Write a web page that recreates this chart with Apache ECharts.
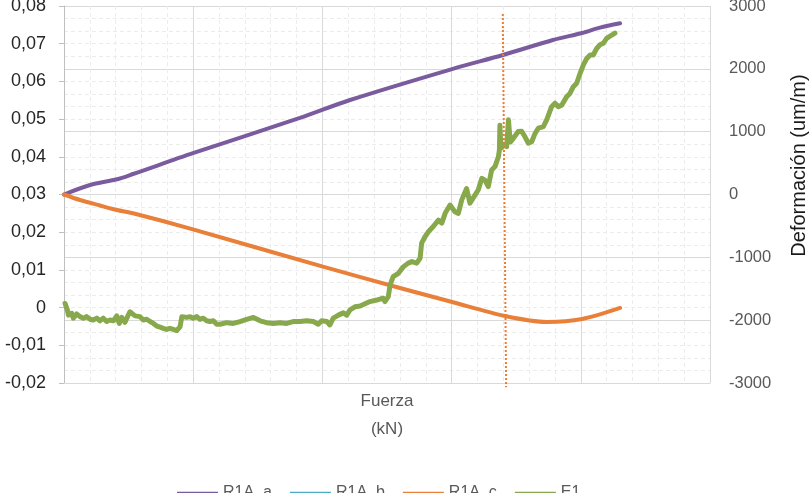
<!DOCTYPE html>
<html>
<head>
<meta charset="utf-8">
<script src="https://cdn.jsdelivr.net/npm/echarts@6/dist/echarts.min.js"></script>
<style>html,body{margin:0;padding:0;background:#fff;}#chart{width:809px;height:493px;}</style>
</head>
<body>
<div id="chart"></div>
<script>
// Series names (legend)
const seriesNames = ['R1A_a', 'R1A_b', 'R1A_c', 'E1'];

// R1A_a : [Fuerza, Deformación um/m] (right axis)
const r1aA = [[0,0],[10.1,151],[20.5,242],[26.7,326],[49.9,657],[91.3,1218],[110.7,1504],[150.5,2000],[169.9,2220],[189.2,2459],[200.5,2570],[207.4,2655],[215.2,2725]];
// R1A_b : no visible data
const r1aB = [];
// R1A_c : [Fuerza, Deformación um/m] (right axis)
const r1aC = [[0,0],[6.2,-88],[13.9,-175],[20.5,-247],[26.7,-299],[49.9,-554],[100.2,-1149],[130,-1488],[150.2,-1711],[170.7,-1934],[186.9,-2029],[200.5,-1982],[215.2,-1806]];
// E1 : [Fuerza, value] (left axis)
const e1 = [[0.4,0.0011],[1.0,0.0016],[1.3,-0.0006],[1.7,-0.0020],[2.3,-0.0024],[3.0,-0.0015],[3.6,-0.0028],[4.9,-0.0017],[6.2,-0.0024],[7.5,-0.0028],
[8.8,-0.0024],[10.1,-0.0031],[11.3,-0.0033],[12.7,-0.0028],[13.9,-0.0035],[15.2,-0.0028],[16.5,-0.0037],[17.8,-0.0033],[19.1,-0.0035],[20.4,-0.0022],
[21.4,-0.0042],[22.3,-0.0026],[23.6,-0.0039],[24.3,-0.0028],[25.5,-0.0011],[26.2,-0.0006],[27.5,-0.0022],[29.4,-0.0024],[30.7,-0.0033],[32.0,-0.0031],
[33.3,-0.0037],[34.6,-0.0042],[35.9,-0.0049],[37.2,-0.0052],[38.4,-0.0055],[39.7,-0.0058],[41.0,-0.0055],[42.3,-0.0058],[43.6,-0.0061],[44.2,-0.0064],
[44.9,-0.0051],[45.6,-0.0024],[46.2,-0.0022],[47.5,-0.0026],[48.8,-0.0024],[50.0,-0.0028],[51.4,-0.0024],[52.6,-0.0031],[53.9,-0.0028],[55.2,-0.0035],
[56.5,-0.0037],[57.8,-0.0035],[59.1,-0.0044],[60.4,-0.0044],[63.0,-0.0040],[65.5,-0.0042],[68.1,-0.0037],[70.7,-0.0031],[73.3,-0.0026],[75.9,-0.0035],
[78.4,-0.0040],[81.0,-0.0042],[83.6,-0.0040],[86.2,-0.0042],[88.7,-0.0037],[91.3,-0.0037],[93.9,-0.0035],[96.5,-0.0037],[98.4,-0.0044],[99.7,-0.0035],
[101.7,-0.0037],[102.9,-0.0046],[104.2,-0.0028],[106.2,-0.0020],[108.1,-0.0014],[109.4,-0.0020],[110.7,-0.0006],[112.6,0.0002],[114.6,0.0004],[116.5,0.0010],
[118.4,0.0016],[121.0,0.0020],[123.5,0.0025],[124.2,0.0016],[125.5,0.0029],[126.2,0.0060],[127.4,0.0082],[129.4,0.0091],[131.3,0.0108],[133.2,0.0118],
[134.6,0.0122],[136.5,0.0118],[137.8,0.0131],[138.4,0.0171],[139.7,0.0188],[141.0,0.0201],[142.9,0.0215],[144.9,0.0232],[146.2,0.0224],[147.5,0.0250],
[149.4,0.0272],[151.3,0.0254],[152.6,0.0250],[153.9,0.0285],[155.8,0.0316],[157.1,0.0277],[159.1,0.0299],[160.3,0.0312],[161.7,0.0343],[162.9,0.0338],
[164.2,0.0321],[165.5,0.0365],[166.8,0.0374],[168.1,0.0400],[168.5,0.0418],[168.7,0.0484],[169.1,0.0423],[170.3,0.0431],[171.3,0.0427],[172.0,0.0498],
[172.7,0.0439],[173.9,0.0449],[175.8,0.0467],[177.1,0.0468],[178.4,0.0453],[179.7,0.0436],[181.0,0.0440],[182.3,0.0462],[183.6,0.0476],[185.5,0.0480],
[186.8,0.0498],[188.7,0.0533],[190.0,0.0542],[191.3,0.0533],[192.6,0.0537],[194.5,0.0559],[195.8,0.0568],[197.1,0.0586],[198.4,0.0595],[199.7,0.0621],
[201.0,0.0644],[202.3,0.0661],[203.6,0.0670],[204.8,0.0670],[206.2,0.0688],[207.4,0.0697],[208.7,0.0701],[210.0,0.0714],[212.0,0.0723],[213.2,0.0728]];
// Vertical dotted marker line (left axis units)
const markerLine = [[169.8,0.0779],[171.1,-0.0211]];

// Axis ranges
const xRange = {min: 0, max: 250, interval: 50};
const leftRange = {min: -0.02, max: 0.08, interval: 0.01};
const rightRange = {min: -3000, max: 3000, interval: 1000};

const colors = {a: '#7A5C9E', b: '#4BACC6', c: '#E8803A', e: '#88A84C', mark: '#ED7D31'};
const FONT = 'Liberation Sans';
const majorGrid = {show: true, lineStyle: {color: '#d9d9d9', width: 1}};
const minorGrid = {show: true, lineStyle: {color: '#ececec', width: 1, type: [4, 3]}};

const chart = echarts.init(document.getElementById('chart'), null, {renderer: 'canvas'});
chart.setOption({
  backgroundColor: '#ffffff',
  animation: false,
  textStyle: {fontFamily: FONT},
  grid: {left: 64, right: 99, top: 6, bottom: 110, containLabel: false, outerBoundsMode: 'none'},
  legend: {
    data: seriesNames,
    left: 177, top: 485,
    padding: 0,
    icon: 'rect',
    itemWidth: 41, itemHeight: 2.5, itemGap: 18,
    textStyle: {color: '#595959', fontSize: 16, fontFamily: FONT, padding: [2, 0, 0, 0]}
  },
  xAxis: {
    type: 'value',
    min: xRange.min, max: xRange.max, interval: xRange.interval,
    name: 'Fuerza\n(kN)',
    nameLocation: 'middle',
    nameGap: 4,
    nameTextStyle: {color: '#595959', fontSize: 17, lineHeight: 28, fontFamily: FONT, verticalAlign: 'top'},
    axisLine: {show: true, onZero: false, lineStyle: {color: '#d9d9d9'}},
    axisTick: {show: false},
    axisLabel: {show: false},
    splitLine: majorGrid,
    minorTick: {show: false, splitNumber: 5},
    minorSplitLine: minorGrid
  },
  yAxis: [
    {
      type: 'value',
      position: 'left',
      min: leftRange.min, max: leftRange.max, interval: leftRange.interval,
      axisLine: {show: true, lineStyle: {color: '#bfbfbf'}},
      axisTick: {show: true, length: 5, inside: false, lineStyle: {color: '#bfbfbf'}},
      axisLabel: {
        color: '#262626', fontSize: 18, fontFamily: FONT, margin: 18,
        formatter: function (v) {
          const r = Math.round(v * 100) / 100;
          if (r === 0) return '0';
          return r.toFixed(2).replace('.', ',');
        }
      },
      splitLine: {show: false}
    },
    {
      type: 'value',
      position: 'right',
      min: rightRange.min, max: rightRange.max, interval: rightRange.interval,
      name: 'Deformación (um/m)',
      nameLocation: 'middle',
      nameRotate: 90,
      nameGap: 79,
      nameTextStyle: {color: '#1a1a1a', fontSize: 20, fontFamily: FONT, padding: [0, 0, 0, 58]},
      axisLine: {show: false},
      axisTick: {show: false},
      axisLabel: {color: '#595959', fontSize: 16.5, fontFamily: FONT, margin: 19,
        formatter: function (v) { return String(Math.round(v)); }},
      splitLine: majorGrid,
      minorTick: {show: false, splitNumber: 5},
      minorSplitLine: minorGrid
    }
  ],
  series: [
    {name: seriesNames[0], type: 'line', yAxisIndex: 1, data: r1aA, symbol: 'none', smooth: 0.3,
     lineStyle: {color: colors.a, width: 4, cap: 'round'}, itemStyle: {color: colors.a}, z: 2},
    {name: seriesNames[1], type: 'line', yAxisIndex: 1, data: r1aB, symbol: 'none',
     lineStyle: {color: colors.b, width: 4}, itemStyle: {color: colors.b}, z: 2},
    {name: seriesNames[2], type: 'line', yAxisIndex: 1, data: r1aC, symbol: 'none', smooth: 0.3,
     lineStyle: {color: colors.c, width: 4, cap: 'round'}, itemStyle: {color: colors.c}, z: 3},
    {name: seriesNames[3], type: 'line', yAxisIndex: 0, data: e1, symbol: 'none',
     lineStyle: {color: colors.e, width: 5, cap: 'round', join: 'round'}, itemStyle: {color: colors.e}, z: 4},
    {name: 'marker', type: 'line', yAxisIndex: 0, data: markerLine, symbol: 'none', clip: false,
     lineStyle: {color: colors.mark, width: 2, type: [2, 2]}, itemStyle: {color: colors.mark}, z: 5, silent: true}
  ]
});
</script>
</body>
</html>
